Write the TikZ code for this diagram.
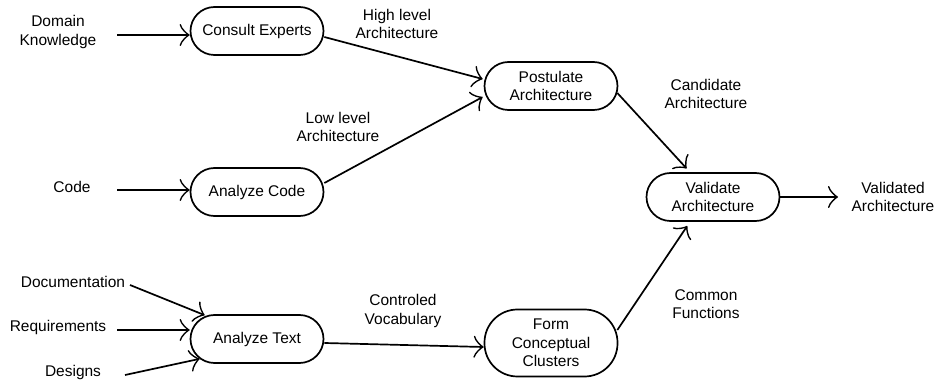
\documentclass[tikz,border=0pt]{standalone}
\usepackage{fontspec}
\setmainfont{Liberation Sans}
\usetikzlibrary{arrows.meta}
\begin{document}
\begin{tikzpicture}[x=1pt,y=-1pt,
  every node/.style={font=\fontsize{15.5pt}{18.5pt}\selectfont, align=center, inner sep=0pt},
  proc/.style={draw, line width=1.7pt, minimum width=133pt, minimum height=48pt, rounded corners=24pt},
  tallproc/.style={proc, minimum height=67pt, rounded corners=33pt},
  flow/.style={line width=1.7pt, -{Classical TikZ Rightarrow[length=10pt, width=22pt]}},
  gap/.style={shorten >=5pt}]
  \useasboundingbox (0,0) rectangle (938,382);

  % activities
  \node[proc] (ce) at (257,31) {Consult Experts};
  \node[proc] (ac) at (257,192) {Analyze Code};
  \node[proc] (pa) at (551,86) {Postulate\\Architecture};
  \node[proc] (va) at (713,197) {Validate\\Architecture};
  \node[proc] (at) at (257,339) {Analyze Text};
  \node[tallproc] (fc) at (551,343) {Form\\Conceptual\\Clusters};

  % inputs and outputs
  \node (dk) at (58,32) {Domain\\Knowledge};
  \node (cd) at (72,187) {Code};
  \node (doc) at (73,282) {Documentation};
  \node (req) at (58,327) {Requirements};
  \node (des) at (73,372) {Designs};
  \node (vd) at (893,197) {Validated\\Architecture};

  % edge labels
  \node (lhi) at (397,24) {High level\\Architecture};
  \node (llo) at (338,127) {Low level\\Architecture};
  \node (lca) at (706,94) {Candidate\\Architecture};
  \node (lcv) at (403,311) {Controled\\Vocabulary};
  \node (lcf) at (706,304) {Common\\Functions};

  % free ends of the input and output arrows
  \coordinate (dkout) at (117,35);
  \coordinate (cdout) at (117,190);
  \coordinate (docout) at (130,285);
  \coordinate (reqout) at (117,330);
  \coordinate (desout) at (125,375);
  \coordinate (vdin) at (838,197);

  % connectors
  \draw[flow] (dkout) -- ([yshift=-4pt]ce.west);
  \draw[flow] (cdout) -- ([yshift=2pt]ac.west);
  \draw[flow] (docout) -- ([xshift=15pt,yshift=-1pt]at.north west);
  \draw[flow] (reqout) -- ([yshift=9pt]at.west);
  \draw[flow] (desout) -- ([xshift=10pt,yshift=5pt]at.south west);

  \draw[flow] ([yshift=-6pt]ce.east) -- ([xshift=-1pt,yshift=7pt]pa.west);
  \draw[flow] ([yshift=9pt]ac.east) -- ([xshift=-1pt,yshift=-11pt]pa.west);
  \draw[flow, gap] ([xshift=-1pt,yshift=-7pt]pa.east) -- ([xshift=-23pt]va.north);
  \draw[flow] ([yshift=-4pt]at.east) -- ([yshift=-4pt]fc.west);
  \draw[flow, gap] ([xshift=-1pt,yshift=13pt]fc.east) -- ([xshift=-23pt]va.south);
  \draw[flow] (va.east) -- (vdin);
\end{tikzpicture}
\end{document}
